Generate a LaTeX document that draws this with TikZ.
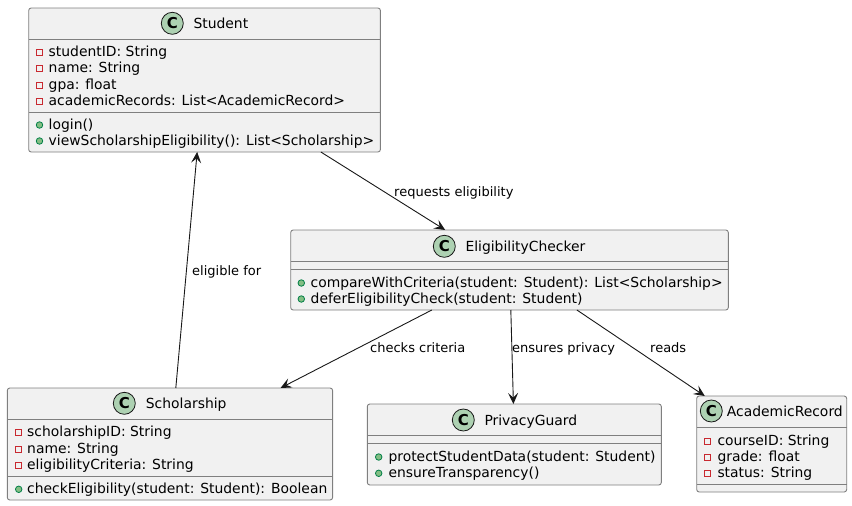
\documentclass[tikz,border=0pt]{standalone}
\usepackage{fontspec}
\setmainfont{DejaVu Sans}
\usetikzlibrary{arrows.meta,calc}
\definecolor{boxfill}{HTML}{F1F1F1}
\definecolor{boxline}{HTML}{7F7F7F}
\definecolor{inkline}{HTML}{181818}
\definecolor{spotfill}{HTML}{ADD1B2}
\definecolor{privline}{HTML}{C82930}
\definecolor{pubfill}{HTML}{84BE84}
\definecolor{publine}{HTML}{038048}
\tikzset{
  x=1pt,y=-1pt,
  classbox/.style={draw=boxline,fill=boxfill,line width=0.9pt,rounded corners=2.5pt,anchor=north west,inner sep=0pt,outer sep=0pt},
  sepline/.style={draw=boxline,line width=0.9pt},
  spot/.style={circle,draw=inkline,fill=spotfill,line width=0.8pt,minimum size=22pt,inner sep=0pt,font=\fontsize{15}{16}\selectfont\bfseries},
  titletext/.style={anchor=base west,inner sep=0pt,font=\fontsize{13.9}{16}\selectfont,text=black},
  membertext/.style={anchor=base west,inner sep=0pt,font=\fontsize{13.9}{16}\selectfont,text=black},
  edgelabel/.style={anchor=base west,inner sep=0pt,font=\fontsize{13}{15}\selectfont,text=black},
  privicon/.style={rectangle,draw=privline,fill=boxfill,line width=0.9pt,minimum size=6pt,inner sep=0pt},
  pubicon/.style={circle,draw=publine,fill=pubfill,line width=0.8pt,minimum size=6.5pt,inner sep=0pt},
  link/.style={draw=inkline,line width=0.9pt,-{Stealth[length=11pt,width=10pt,inset=4.5pt]}},
}
% name, icon x, text x, baseline y, text
\newcommand{\privrow}[5]{%
  \node[privicon] (#1i) at (#2,#4-4) {};
  \node[membertext] (#1) at (#3,#4) {#5};}
\newcommand{\pubrow}[5]{%
  \node[pubicon] (#1i) at (#2,#4-4) {};
  \node[membertext] (#1) at (#3,#4) {#5};}
% name, spot x, spot y, title x, title baseline, text
\newcommand{\classhead}[6]{%
  \node[spot] (#1s) at (#2,#3) {C};
  \node[titletext] (#1t) at (#4,#5) {#6};}
\newcommand{\classsep}[2]{\draw[sepline] (#1.west |- 0,#2) -- (#1.east |- 0,#2);}
\begin{document}
\begin{tikzpicture}
\useasboundingbox (0,0) rectangle (852,506);
% boxes
\node[classbox,minimum width=351.7pt,minimum height=144pt] (student) at (28.7,8) {};
\node[classbox,minimum width=437.6pt,minimum height=80pt] (checker) at (290.7,230) {};
\node[classbox,minimum width=325.3pt,minimum height=112pt] (scholarship) at (7.3,388) {};
\node[classbox,minimum width=294pt,minimum height=81pt] (guard) at (367.3,404) {};
\node[classbox,minimum width=150pt,minimum height=96pt] (record) at (696.7,396) {};
\classsep{student}{39}\classsep{student}{112}
\classsep{checker}{261}\classsep{checker}{269}
\classsep{scholarship}{419}\classsep{scholarship}{476}
\classsep{guard}{435}\classsep{guard}{443}
\classsep{record}{427}\classsep{record}{484}
% Student
\classhead{student}{172.3}{23.3}{193.3}{28.3}{Student}
\privrow{sa}{39.5}{48.5}{56.3}{studentID: String}
\privrow{sb}{39.5}{48.5}{72.5}{name: String}
\privrow{sc}{39.5}{48.5}{89}{gpa: float}
\privrow{sd}{39.5}{48.5}{105}{academicRecords: List<AcademicRecord>}
\pubrow{se}{39.5}{48.5}{129}{login()}
\pubrow{sf}{39.5}{48.5}{145}{viewScholarshipEligibility(): List<Scholarship>}
% EligibilityChecker
\classhead{checker}{444.3}{246.3}{465.3}{251.7}{EligibilityChecker}
\pubrow{ca}{301.3}{310.5}{287}{compareWithCriteria(student: Student): List<Scholarship>}
\pubrow{cb}{301.3}{310.5}{303}{deferEligibilityCheck(student: Student)}
% Scholarship
\classhead{scholarship}{124.3}{403.3}{145.7}{408.3}{Scholarship}
\privrow{ha}{18.7}{27}{436.7}{scholarshipID: String}
\privrow{hb}{18.7}{27}{453.3}{name: String}
\privrow{hc}{18.7}{27}{469.3}{eligibilityCriteria: String}
\pubrow{hd}{18.7}{27}{493.3}{checkEligibility(student: Student): Boolean}
% PrivacyGuard
\classhead{guard}{463.3}{420}{484.3}{425}{PrivacyGuard}
\pubrow{ga}{378.7}{388.3}{461}{protectStudentData(student: Student)}
\pubrow{gb}{378.7}{388.3}{477.3}{ensureTransparency()}
% AcademicRecord
\classhead{record}{711.3}{411}{726.7}{416}{AcademicRecord}
\privrow{ra}{707.3}{717.3}{445.7}{courseID: String}
\privrow{rb}{707.3}{717.3}{461.7}{grade: float}
\privrow{rc}{707.3}{717.3}{477.3}{status: String}
% connectors
\draw[link] ($(student.south west)!0.8307!(student.south east)$) -- ($(checker.north west)!0.353!(checker.north east)$);
\draw[link] ($(scholarship.north west)!0.518!(scholarship.north east)$) -- ($(student.south west)!0.479!(student.south east)$);
\draw[link] ($(checker.south west)!0.3225!(checker.south east)$) -- ($(scholarship.north west)!0.84!(scholarship.north east)$);
\draw[link] ($(checker.south west)!0.503!(checker.south east)$) -- ($(guard.north west)!0.497!(guard.north east)$);
\draw[link] ($(checker.south west)!0.654!(checker.south east)$) -- ($(record.north west)!0.054!(record.north east)$);
% labels
\node[edgelabel] (l1) at (394,196) {requests eligibility};
\node[edgelabel] (l2) at (192,275) {eligible for};
\node[edgelabel] (l3) at (370,352) {checks criteria};
\node[edgelabel] (l4) at (512,352) {ensures privacy};
\node[edgelabel] (l5) at (650,352) {reads};
\end{tikzpicture}
\end{document}
